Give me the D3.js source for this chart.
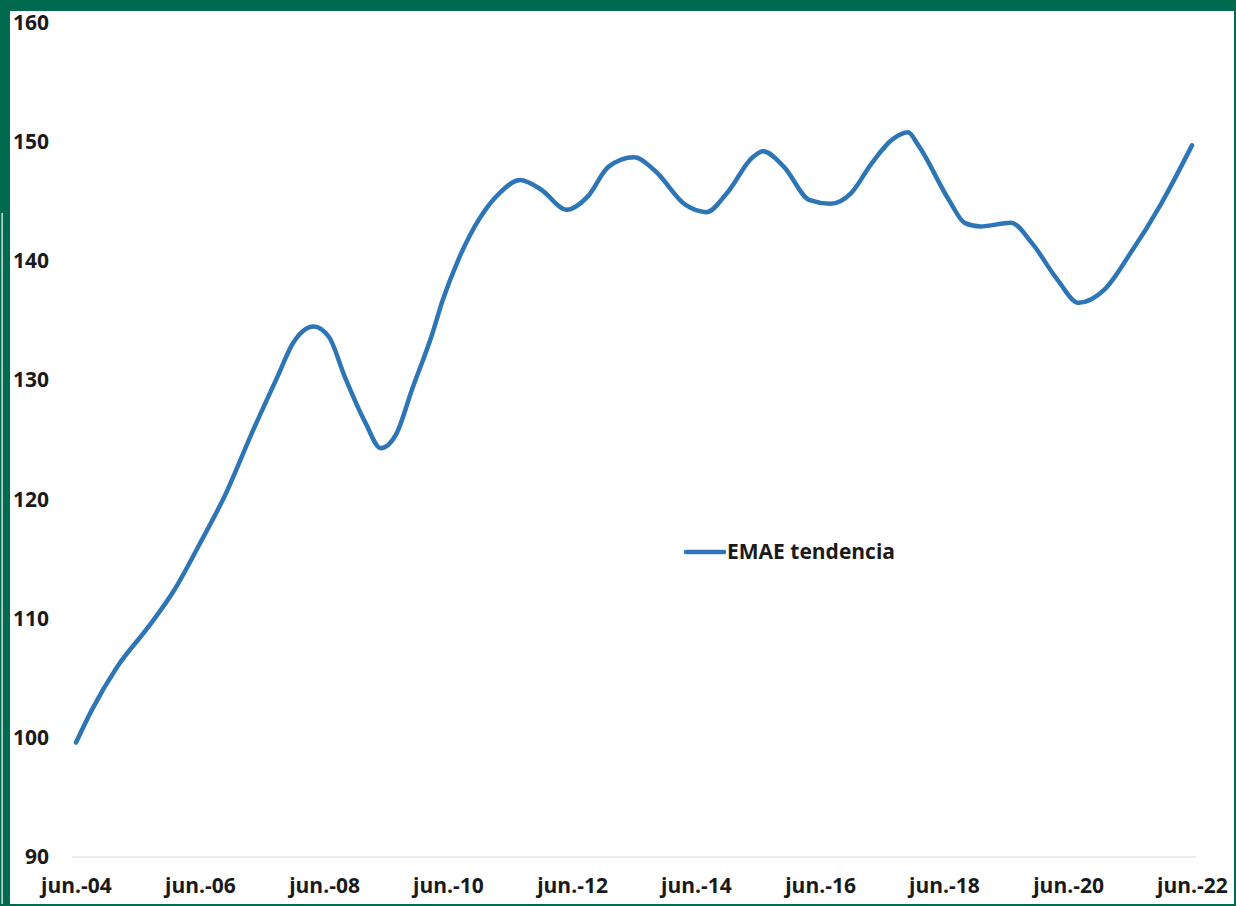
<!DOCTYPE html>
<html>
<head>
<meta charset="utf-8">
<script src="https://cdn.jsdelivr.net/npm/d3@7"></script>
<style>
  body { margin: 0; background: #fff; }
  svg text { font-family: "Open Sans", "Noto Sans", sans-serif; font-weight: bold; fill: #1a1a1a; }
</style>
</head>
<body>
<div id="chart"></div>
<script>
// EMAE tendencia
var dates = ['2004-06', '2004-09', '2005-02', '2005-08', '2006-01', '2006-06', '2006-11', '2007-04',
    '2007-09', '2007-12', '2008-04', '2008-07', '2008-10', '2009-02', '2009-05', '2009-08',
    '2009-11', '2010-03', '2010-05', '2010-08', '2011-04', '2011-08', '2011-12', '2012-05',
    '2012-09', '2013-01', '2013-06', '2013-10', '2014-04', '2014-08', '2014-12', '2015-05',
    '2015-07', '2015-11', '2016-04', '2016-08', '2016-12', '2017-04', '2017-08', '2017-11',
    '2018-01', '2018-07', '2018-10', '2019-01', '2019-07', '2019-11', '2020-04', '2020-08',
    '2021-01', '2021-06', '2021-12', '2022-06']
var values = [99.6, 102.3, 106.0, 109.3, 112.4, 116.3, 120.5, 125.5,
    130.3, 133.1, 134.5, 133.6, 130.3, 126.4, 124.3, 125.5,
    129.2, 133.9, 136.7, 140.1, 145.7, 146.8, 146.0, 144.3,
    145.4, 147.9, 148.7, 147.6, 144.7, 144.1, 145.7, 148.7,
    149.2, 147.9, 145.1, 144.8, 145.7, 148.2, 150.2, 150.8,
    149.7, 145.1, 143.2, 142.9, 143.2, 141.5, 138.4, 136.5,
    137.6, 140.6, 144.8, 149.7]
var yTicks = [90, 100, 110, 120, 130, 140, 150, 160]
var xTicks = ['2004-06', '2006-06', '2008-06', '2010-06', '2012-06', '2014-06', '2016-06', '2018-06', '2020-06', '2022-06']
var seriesName = 'EMAE tendencia'

var width = 1236
var height = 906
var green = '#006a4e'
var blue = '#2e75b6'
var parse = d3.timeParse('%Y-%m')

var data = dates.map(function (d, i) { return { date: parse(d), value: values[i] } })

const svg = d3.select('#chart')
    .append('svg')
    .attr('width', width)
    .attr('height', height)

svg.append('rect').attr('width', width).attr('height', height).attr('fill', '#fff')

var x = d3.scaleTime()
    .domain([parse('2004-06'), parse('2022-06')])
    .range([76, 1192])

var y = d3.scaleLinear()
    .domain([90, 160])
    .range([857, 22.6])

// baseline grid line at 90 only
svg.append('line')
    .attr('x1', 72).attr('x2', 1196)
    .attr('y1', y(90)).attr('y2', y(90))
    .attr('stroke', '#d9d9d9')
    .attr('stroke-width', 1)

// y axis labels
var yAxis = svg.append('g')
    .attr('transform', 'translate(49,0)')
    .call(d3.axisLeft(y).tickValues(yTicks).tickSize(0).tickPadding(0))
yAxis.select('.domain').remove()
yAxis.selectAll('text').style('font-size', '21px').attr('fill', '#1a1a1a')

// x axis labels
var xAxis = svg.append('g')
    .attr('transform', 'translate(0,878)')
    .call(d3.axisBottom(x)
        .tickValues(xTicks.map(parse))
        .tickFormat(function (d) { return 'jun.-' + d3.timeFormat('%y')(d) })
        .tickSize(0).tickPadding(0))
xAxis.select('.domain').remove()
xAxis.selectAll('text').style('font-size', '21px').attr('fill', '#1a1a1a')

// the series
var line = d3.line()
    .x(function (d) { return x(d.date) })
    .y(function (d) { return y(d.value) })
    .curve(d3.curveMonotoneX)

svg.append('path')
    .datum(data)
    .attr('d', line)
    .attr('fill', 'none')
    .attr('stroke', blue)
    .attr('stroke-width', 4.5)
    .attr('stroke-linecap', 'round')
    .attr('stroke-linejoin', 'round')

// legend
var legend = svg.append('g').attr('transform', 'translate(686,552)')
legend.append('line')
    .attr('x1', 0).attr('x2', 38)
    .attr('stroke', blue)
    .attr('stroke-width', 4.5)
    .attr('stroke-linecap', 'round')
legend.append('text')
    .attr('x', 41)
    .attr('dy', '0.35em')
    .style('font-size', '21px')
    .text(seriesName)

// green frame
svg.append('rect').attr('x', 0).attr('y', 0).attr('width', width).attr('height', 11).attr('fill', green)
svg.append('rect').attr('x', 0).attr('y', 0).attr('width', 10).attr('height', height).attr('fill', green)
svg.append('rect').attr('x', 1.5).attr('y', 213).attr('width', 1.2).attr('height', height - 213).attr('fill', '#fff')
svg.append('rect').attr('x', width - 2).attr('y', 0).attr('width', 2).attr('height', height).attr('fill', green)
svg.append('rect').attr('x', 0).attr('y', height - 2).attr('width', width).attr('height', 2).attr('fill', green)
</script>
</body>
</html>
